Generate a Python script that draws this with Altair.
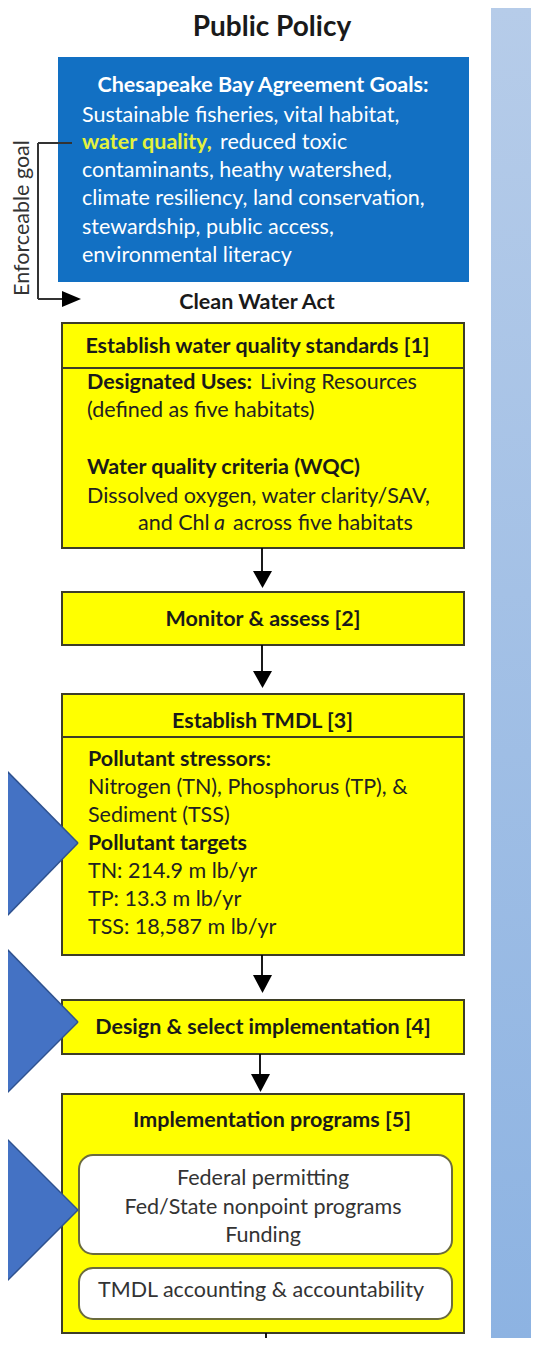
import altair as alt
import pandas as pd

# ---------------- text content ----------------
title_text = ["Public Policy"]
goals_heading = ["Chesapeake Bay Agreement Goals:"]
goals_white = ["Sustainable fisheries, vital habitat,", "reduced toxic",
               "contaminants, heathy watershed,", "climate resiliency, land conservation,",
               "stewardship, public access,", "environmental literacy"]
goals_yellow = ["water quality,"]
side_label = ["Enforceable goal"]
cwa_label = ["Clean Water Act"]
box_headers = ["Establish water quality standards [1]", "Monitor & assess [2]",
               "Establish TMDL [3]", "Design & select implementation [4]",
               "Implementation programs [5]"]
body_bold = ["Designated Uses:", "Water quality criteria (WQC)",
             "Pollutant stressors:", "Pollutant targets"]
body_regular = ["Living Resources", "(defined as five habitats)",
                "Dissolved oxygen, water clarity/SAV,", "and Chl", "across five habitats",
                "Nitrogen (TN), Phosphorus (TP), &", "Sediment (TSS)",
                "TN: 214.9 m lb/yr", "TP: 13.3 m lb/yr", "TSS: 18,587 m lb/yr"]
body_italic = ["a"]
program_lines = ["Federal permitting", "Fed/State nonpoint programs", "Funding",
                 "TMDL accounting  & accountability"]

# ---------------- layout (page pixels) ----------------
W, H = 523, 1330
X0, Y0 = 8, 8
FONT = "Lato"
FS = 21.5

xs = alt.Scale(domain=[X0, X0 + W], nice=False, zero=False)
ys = alt.Scale(domain=[Y0, Y0 + H], nice=False, zero=False, reverse=True)
X = alt.X("x:Q", scale=xs, axis=None)
Y = alt.Y("y:Q", scale=ys, axis=None, stack=None)


def rects(x, x2, y, y2, **kw):
    df = pd.DataFrame({"x": x, "x2": x2, "y": y, "y2": y2})
    return alt.Chart(df).mark_rect(**kw).encode(x=X, x2="x2:Q", y=Y, y2="y2:Q")


def rules(x, x2, y, y2, **kw):
    df = pd.DataFrame({"x": x, "x2": x2, "y": y, "y2": y2})
    return alt.Chart(df).mark_rule(**kw).encode(x=X, x2="x2:Q", y=Y, y2="y2:Q")


def texts(t, x, y, **kw):
    df = pd.DataFrame({"t": t, "x": x, "y": y})
    return alt.Chart(df).mark_text(font=FONT, baseline="middle", **kw).encode(x=X, y=Y, text="t:N")


def tri_down(ids, cx, top, tip, half, **kw):
    rows = []
    for i, c, t, p, h in zip(ids, cx, top, tip, half):
        rows.append({"id": i, "y": t, "x": c - h, "x2": c + h})
        rows.append({"id": i, "y": p, "x": c, "x2": c})
    return alt.Chart(pd.DataFrame(rows)).mark_area(orient="horizontal", **kw).encode(
        y=Y, x=alt.X("x:Q", scale=xs, axis=None, stack=None), x2="x2:Q", detail="id:N")


def tri_right(ids, base_x, tip_x, cy, half, **kw):
    rows = []
    for i, b, t, c, h in zip(ids, base_x, tip_x, cy, half):
        rows.append({"id": i, "x": b, "y": c - h, "y2": c + h})
        rows.append({"id": i, "x": t, "y": c, "y2": c})
    return alt.Chart(pd.DataFrame(rows)).mark_area(orient="vertical", **kw).encode(
        x=X, y=Y, y2="y2:Q", detail="id:N")


BOX_L, BOX_R = 62, 464
YELLOW = "#ffff00"
EDGE = "#3e3e28"
DARK = "#222222"

# right blue strip
strip = rects([491], [X0 + W], [Y0], [Y0 + H],
              fill=alt.Gradient(gradient="linear",
                                stops=[alt.GradientStop(color="#b6cce9", offset=0),
                                       alt.GradientStop(color="#8db3e2", offset=1)],
                                x1=0, x2=0, y1=0, y2=1))

# blue goals box
goals_box = rects([58], [469], [57], [282], fill="#1270c3")

# yellow boxes
ybox = rects([BOX_L] * 5, [BOX_R] * 5, [323, 592, 694, 1000, 1094], [548, 645, 955, 1054, 1333],
             fill=YELLOW, stroke=EDGE, strokeWidth=2)
dividers = rules([BOX_L, BOX_L], [BOX_R, BOX_R], [368, 737], [368, 737], color=EDGE, strokeWidth=2)

# inner rounded boxes
inner = rects([79, 79], [452, 452], [1155, 1268], [1254, 1319], fill="white",
              stroke="#6b6b3e", strokeWidth=2, cornerRadius=14)

# flow arrows (shafts + heads)
shafts = rules([262, 262, 262, 260, 266], [262, 262, 262, 260, 266],
               [548, 645, 955, 1054, 1333], [574, 674, 978, 1077, Y0 + H],
               color="black", strokeWidth=1.8)
heads = tri_down([1, 2, 3, 4], [262.5, 262.5, 262.5, 260.5], [571, 671, 975, 1074],
                 [588, 688, 993, 1092], [9.5, 9.5, 9.5, 9.5], color="black")

# enforceable-goal connector
connector = rules([38, 38, 38], [72, 38, 63], [143, 143, 299], [143, 299, 299],
                  color="#333333", strokeWidth=2)
conn_head = tri_right([1], [62], [81], [299], [8], color="black")

# big blue arrows on the left
big_rows = []
for i, (top, tip, bot) in enumerate([(767, 843, 920), (945, 1022, 1097), (1135, 1210, 1285)]):
    big_rows.append({"id": i, "x": 3, "y": top, "y2": bot})
    big_rows.append({"id": i, "x": 78, "y": tip, "y2": tip})
big_arrows = alt.Chart(pd.DataFrame(big_rows)).mark_area(
    orient="vertical", color="#4472c4", clip=True).encode(x=X, y=Y, y2="y2:Q", detail="id:N")
big_edges = rules([3, 3, 3, 3, 3, 3], [78, 78, 78, 78, 78, 78],
                  [767, 920, 945, 1097, 1135, 1285], [843, 843, 1022, 1022, 1210, 1210],
                  color="#2f528f", strokeWidth=1.5, clip=True)

# ---------------- texts ----------------
t_title = texts(title_text, [272], [28], fontSize=28, fontWeight="bold", color="#1a1a1a", align="center")
t_goal_head = texts(goals_heading, [263], [86], fontSize=FS, fontWeight="bold", color="white", align="center")
t_goal_white = texts(goals_white, [82, 220, 82, 82, 82, 82], [116, 143, 171, 199, 228, 256],
                     fontSize=FS, color="white", align="left")
t_goal_yellow = texts(goals_yellow, [82], [143], fontSize=FS, fontWeight="bold", color="#e4f23c", align="left")
t_side = texts(side_label, [23], [218], fontSize=21.5, color="#333333", align="center", angle=270)
t_cwa = texts(cwa_label, [257], [303], fontSize=FS, fontWeight="bold", color="#1a1a1a", align="center")
t_headers = texts(box_headers, [257.5, 263, 262.5, 263, 272], [347, 620, 722, 1028, 1121],
                  fontSize=FS, fontWeight="bold", color="#1a1a1a", align="center")
t_body_bold = texts(body_bold, [87, 87, 88, 88], [383, 468, 760, 844],
                    fontSize=FS, fontWeight="bold", color="#1a1a1a", align="left")
t_body_reg = texts(body_regular, [260, 87, 87, 138, 233, 88, 88, 88, 88, 88],
                   [383, 411, 497, 524, 524, 788, 816, 872, 900, 928],
                   fontSize=FS, color=DARK, align="left")
t_body_it = texts(body_italic, [214], [524], fontSize=FS, fontStyle="italic", color=DARK, align="left")
t_prog = texts(program_lines, [263, 263, 263, 261], [1179, 1208, 1236, 1291],
               fontSize=FS, color="#333333", align="center")

chart = alt.layer(
    strip, goals_box, ybox, dividers, inner, shafts, heads, connector, conn_head,
    t_title, t_goal_head, t_goal_white, t_goal_yellow, t_side, t_cwa, t_headers,
    t_body_bold, t_body_reg, t_body_it, t_prog, big_arrows, big_edges,
).properties(
    width=W, height=H, padding=0, autosize=alt.AutoSizeParams(type="none"), background="white"
).configure_view(stroke=None)

chart.save("out.html", embed_options={"renderer": "svg", "actions": False})
